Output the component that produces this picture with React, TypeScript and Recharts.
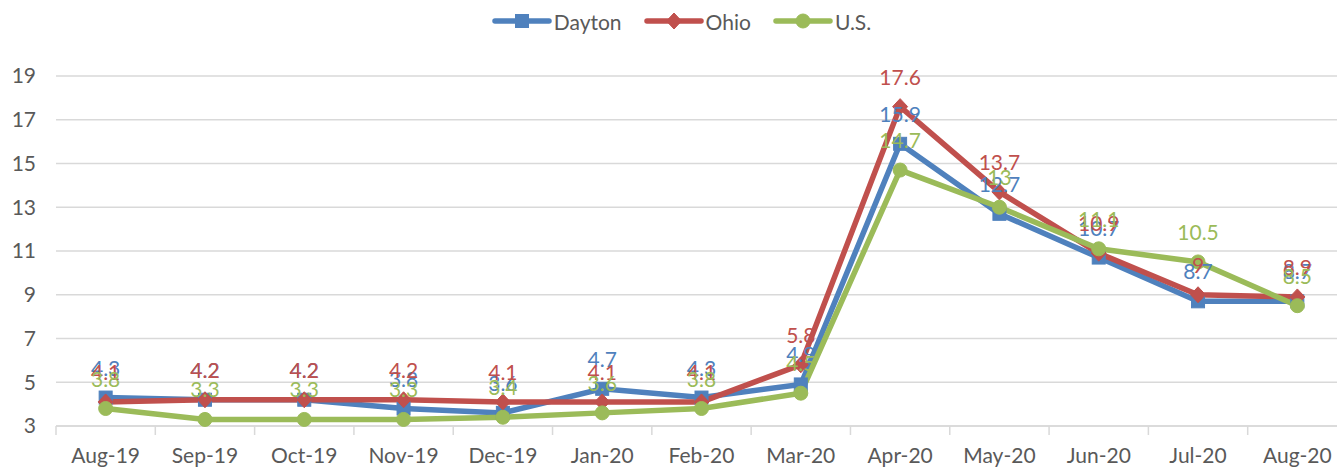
import React from 'react';
import { LineChart, Line, XAxis, YAxis, CartesianGrid, LabelList } from 'recharts';

const months = ['Aug-19', 'Sep-19', 'Oct-19', 'Nov-19', 'Dec-19', 'Jan-20', 'Feb-20', 'Mar-20', 'Apr-20', 'May-20', 'Jun-20', 'Jul-20', 'Aug-20'];
const dayton = [4.3, 4.2, 4.2, 3.8, 3.6, 4.7, 4.3, 4.9, 15.9, 12.7, 10.7, 8.7, 8.7];
const ohio = [4.1, 4.2, 4.2, 4.2, 4.1, 4.1, 4.1, 5.8, 17.6, 13.7, 10.9, 9, 8.9];
const us = [3.8, 3.3, 3.3, 3.3, 3.4, 3.6, 3.8, 4.5, 14.7, 13, 11.1, 10.5, 8.5];
const yTicks = [3, 5, 7, 9, 11, 13, 15, 17, 19];

const data = months.map((m, i) => ({ month: m, Dayton: dayton[i], Ohio: ohio[i], US: us[i] }));

const BLUE = '#4F81BD';
const RED = '#C0504D';
const GREEN = '#9BBB59';
const TEXT = '#595959';
const GRID = '#D9D9D9';
const FONT = 'Lato, sans-serif';

const W = 1350;
const H = 468;
const LEFT = 56;
const RIGHT = 3;
const band = (W - LEFT - RIGHT) / months.length;

function Marker({ kind, cx, cy, color }: { kind: string; cx: number; cy: number; color: string }) {
  if (kind === 'square') return <rect x={cx - 6.5} y={cy - 6.5} width={13} height={13} fill={color} stroke={color} />;
  if (kind === 'diamond')
    return <polygon points={`${cx},${cy - 8} ${cx + 7.5},${cy} ${cx},${cy + 8} ${cx - 7.5},${cy}`} fill={color} stroke={color} />;
  return <circle cx={cx} cy={cy} r={7} fill={color} stroke={color} />;
}

const dotFor = (kind: string, color: string) => (p: any) => (
  <Marker key={`${kind}-${p.index}`} kind={kind} cx={p.cx} cy={p.cy} color={color} />
);

function XTick(props: any) {
  const { x, y, payload, index } = props;
  const axisY = y - 8;
  return (
    <g>
      <line x1={x - band / 2} x2={x - band / 2} y1={axisY} y2={axisY + 9} stroke={GRID} strokeWidth={1.5} />
      {index === months.length - 1 && (
        <line x1={x + band / 2} x2={x + band / 2} y1={axisY} y2={axisY + 9} stroke={GRID} strokeWidth={1.5} />
      )}
      <text x={x} y={axisY + 37} textAnchor="middle" fill={TEXT} fontSize={21} fontFamily={FONT}>
        {payload.value}
      </text>
    </g>
  );
}

const legendItems = [
  { name: 'Dayton', color: BLUE, kind: 'square' },
  { name: 'Ohio', color: RED, kind: 'diamond' },
  { name: 'U.S.', color: GREEN, kind: 'circle' },
];

function LegendBox() {
  return (
    <div style={{ position: 'absolute', top: 6, left: 0, width: 1337, display: 'flex', justifyContent: 'center', paddingLeft: 24 }}>
      {legendItems.map((it) => (
        <div key={it.name} style={{ display: 'flex', alignItems: 'center', marginRight: 22 }}>
          <svg width={60} height={30}>
            <line x1={3} x2={57} y1={15} y2={15} stroke={it.color} strokeWidth={5.5} strokeLinecap="round" />
            <Marker kind={it.kind} cx={30} cy={15} color={it.color} />
          </svg>
          <span style={{ fontFamily: FONT, fontSize: 21, color: TEXT, marginLeft: 2 }}>{it.name}</span>
        </div>
      ))}
    </div>
  );
}

const labelStyle = { fontSize: 21, fontFamily: FONT };

export default function App() {
  return (
    <div style={{ position: 'fixed', left: 0, top: 0, width: 1337, height: 468, overflow: 'hidden', background: '#fff' }}>
      <LegendBox />
      <LineChart width={W} height={H} data={data} margin={{ top: 76, right: RIGHT, bottom: 0, left: 0 }}>
        <CartesianGrid vertical={false} stroke={GRID} strokeWidth={1.5} />
        <XAxis
          dataKey="month"
          axisLine={{ stroke: GRID, strokeWidth: 1.5 }}
          tickLine={false}
          tick={<XTick />}
          interval={0}
          height={42}
          padding={{ left: band / 2, right: band / 2 }}
        />
        <YAxis
          domain={[3, 19]}
          ticks={yTicks}
          axisLine={false}
          tickLine={false}
          width={LEFT}
          tickMargin={14}
          tick={{ fill: TEXT, fontSize: 21, fontFamily: FONT }}
        />
        <Line dataKey="Dayton" stroke={BLUE} strokeWidth={5.5} dot={dotFor('square', BLUE)} isAnimationActive={false}>
          <LabelList dataKey="Dayton" position="top" offset={22} fill={BLUE} style={labelStyle} />
        </Line>
        <Line dataKey="Ohio" stroke={RED} strokeWidth={5.5} dot={dotFor('diamond', RED)} isAnimationActive={false}>
          <LabelList dataKey="Ohio" position="top" offset={22} fill={RED} style={labelStyle} />
        </Line>
        <Line dataKey="US" stroke={GREEN} strokeWidth={5.5} dot={dotFor('circle', GREEN)} isAnimationActive={false}>
          <LabelList dataKey="US" position="top" offset={22} fill={GREEN} style={labelStyle} />
        </Line>
      </LineChart>
    </div>
  );
}
